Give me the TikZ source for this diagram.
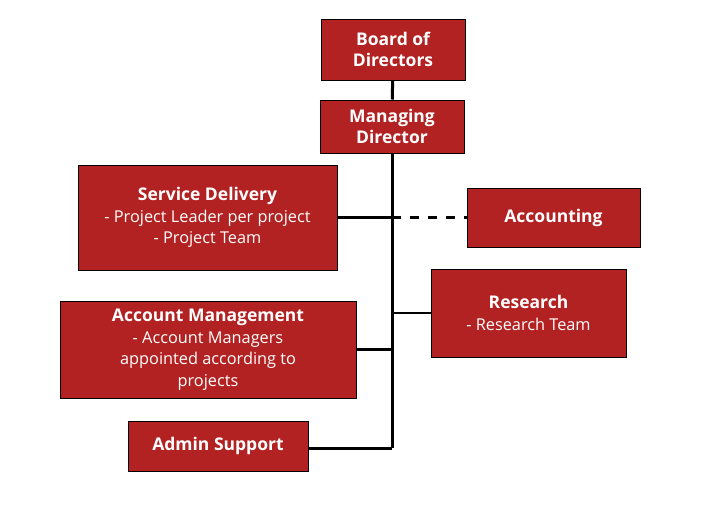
\documentclass[tikz,border=0pt]{standalone}
\usepackage{fontspec}
\setmainfont{Open Sans}
\newcommand{\unithead}[1]{{\fontsize{17.5}{21.5}\selectfont\bfseries #1}}
\begin{document}
\begin{tikzpicture}[
      x=1pt,y=-1pt,
      unit/.style={draw=black,line width=1pt,fill=boxred,text=white,
        align=center,inner sep=0pt,font=\fontsize{16.3}{21.5}\selectfont},
      trunk/.style={line width=3pt},
      branch/.style={line width=2.2pt},
    ]
    \definecolor{boxred}{RGB}{178,34,34}
    \useasboundingbox (0,0) rectangle (719,531);
    \node[unit,minimum width=144,minimum height=61] (board) at (393,49.5)
      {\unithead{Board of}\\\unithead{Directors}};
    \node[unit,minimum width=144,minimum height=53] (md) at (392,126.5)
      {\unithead{Managing}\\\unithead{Director}};
    \node[unit,minimum width=259,minimum height=105] (service) at (207.5,217.5)
      {\unithead{Service Delivery}\\- Project Leader per project\\- Project Team};
    \node[unit,minimum width=173,minimum height=59] (accounting) at (553.5,217.5)
      {\unithead{Accounting}};
    \node[unit,minimum width=195,minimum height=88] (research) at (528.5,313)
      {\unithead{Research}\\- Research Team};
    \node[unit,minimum width=296,minimum height=97] (accmgmt) at (208,349.5)
      {\unithead{Account Management}\\- Account Managers\\appointed according to\\projects};
    \node[unit,minimum width=180,minimum height=50] (admin) at (218,446)
      {\unithead{Admin Support}};
    \coordinate (trunkend) at (392,448);
    \draw[trunk] (board) -- (md);
    \draw[trunk] (md.south) -- (trunkend);
    \draw[branch] (service.east) -- (service.east -| trunkend);
    \draw[branch,dash pattern=on 9pt off 9pt] (service.east -| trunkend) -- (accounting.west);
    \draw[branch] (research.west) -- (research.west -| trunkend);
    \draw[branch] (accmgmt.east) -- (accmgmt.east -| trunkend);
    \draw[trunk] (admin.east |- trunkend) -- (trunkend);
  \end{tikzpicture}
\end{document}
